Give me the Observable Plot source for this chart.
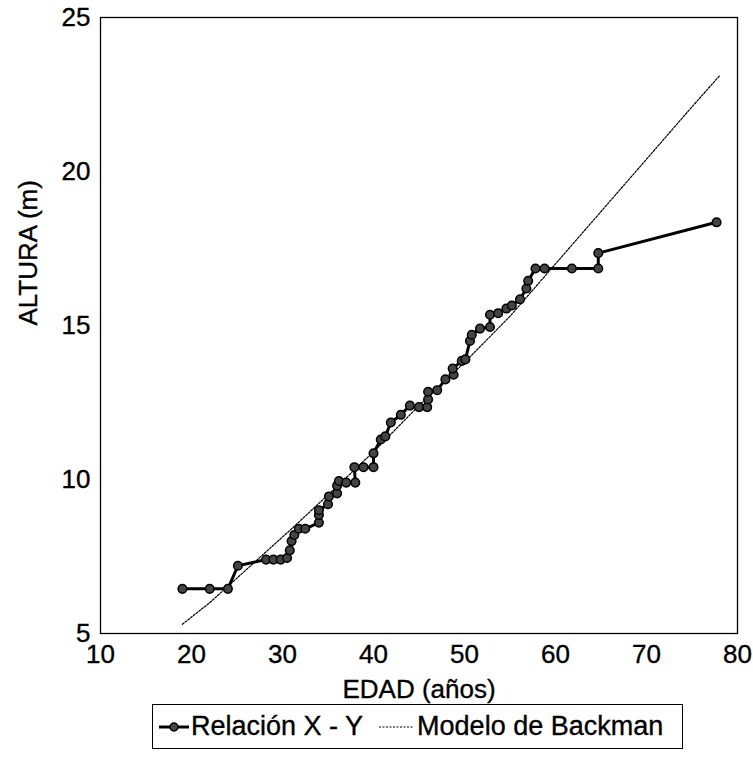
<!DOCTYPE html>
<html>
<head>
<meta charset="utf-8">
<script src="https://cdn.jsdelivr.net/npm/d3@7"></script>
<script src="https://cdn.jsdelivr.net/npm/@observablehq/plot@0.6"></script>
<style>
  html, body { margin: 0; padding: 0; background: #fff; }
  #wrap { position: relative; width: 753px; height: 770px; font-family: "Liberation Sans", Arial, Helvetica, sans-serif; }
  #wrap svg text { stroke: #000; stroke-width: 0.35px; }
  #legend {
    position: absolute; left: 152px; top: 704px; width: 531px; height: 45px;
    border: 1.5px solid #000; box-sizing: border-box;
    display: flex; align-items: center; font-size: 27px; color: #000; white-space: nowrap;
    -webkit-text-stroke: 0.35px #000;
  }
  #legend svg { flex: none; }
</style>
</head>
<body>
<div id="wrap"></div>
<script>
// Observed series "Relación X - Y"
const ages = [19,22,24,25.1,28.2,29,29.8,30.5,30.8,31,31.3,31.8,32.5,34,34,34,35,35.1,36,36,36.2,37,38,37.9,38.9,40,40,40.8,41.3,41.9,43,44,45,45.9,46,46,47,47.9,48.8,48.7,49.7,50.1,50.6,50.8,51.7,52.8,52.8,53.7,54.6,55.2,56.1,56.8,57,57.8,58.8,61.8,64.7,64.7,77.7];
const heights = [6.45,6.45,6.45,7.2,7.4,7.4,7.4,7.45,7.7,8.0,8.2,8.4,8.4,8.6,8.85,9.0,9.2,9.45,9.55,9.8,9.95,9.9,9.9,10.4,10.4,10.4,10.85,11.3,11.4,11.85,12.1,12.4,12.35,12.35,12.6,12.85,12.9,13.25,13.4,13.6,13.85,13.9,14.5,14.7,14.9,14.95,15.35,15.4,15.55,15.65,15.85,16.2,16.45,16.85,16.85,16.85,16.85,17.35,18.35];

// "Modelo de Backman" curve
const modelAges = [19,22,25,28,31,35,40,45,50,55,60,65,70,75,78];
const modelHeights = [5.3,6.0,6.8,7.6,8.4,9.5,10.9,12.4,13.8,15.3,17.0,18.7,20.4,22.1,23.1];

const xTicks = [10,20,30,40,50,60,70,80];
const yTicks = [5,10,15,20,25];
const xLabel = "EDAD (años)";
const yLabel = "ALTURA (m)";
const legendLabels = ["Relación X - Y", "Modelo de Backman"];

const obs = ages.map((a, i) => ({age: a, h: heights[i]}));
const model = modelAges.map((a, i) => ({age: a, h: modelHeights[i]}));

const chart = Plot.plot({
  width: 753,
  height: 705,
  marginLeft: 100,
  marginRight: 16,
  marginTop: 17,
  marginBottom: 72,
  style: {fontFamily: '"Liberation Sans", Arial, Helvetica, sans-serif', color: "#000", background: "#fff"},
  x: {domain: [10, 80]},
  y: {domain: [5, 25]},
  marks: [
    Plot.frame({stroke: "#000", strokeWidth: 1.3}),
    Plot.axisX({ticks: xTicks, tickSize: 0, tickPadding: 11, fontSize: 26, label: null}),
    Plot.axisY({ticks: yTicks, tickSize: 0, tickPadding: 10, fontSize: 26, label: null}),
    Plot.text([xLabel], {frameAnchor: "bottom", dy: 64, fontSize: 26, text: d => d}),
    Plot.text([yLabel], {frameAnchor: "left", dx: -72, rotate: -90, fontSize: 26, text: d => d}),
    Plot.line(model, {x: "age", y: "h", stroke: "#000", strokeWidth: 1.2, strokeDasharray: "2 1.5"}),
    Plot.line(obs, {x: "age", y: "h", stroke: "#000", strokeWidth: 3}),
    Plot.dot(obs, {x: "age", y: "h", r: 4.3, fill: "#444", stroke: "#000", strokeWidth: 1.5})
  ]
});

const wrap = document.getElementById("wrap");
wrap.appendChild(chart);

const legend = document.createElement("div");
legend.id = "legend";
legend.innerHTML = `
  <svg width="34" height="20" style="margin-left:4px"><line x1="2" y1="10" x2="32" y2="10" stroke="#000" stroke-width="3"/><circle cx="17" cy="10" r="4" fill="#444" stroke="#000" stroke-width="1.5"/></svg>
  <span>${legendLabels[0]}</span>
  <svg width="40" height="20" style="margin-left:12px"><line x1="4" y1="10" x2="38" y2="10" stroke="#000" stroke-width="1.2" stroke-dasharray="2 1.5"/></svg>
  <span style="margin-left:2px">${legendLabels[1]}</span>`;
wrap.appendChild(legend);
</script>
</body>
</html>
